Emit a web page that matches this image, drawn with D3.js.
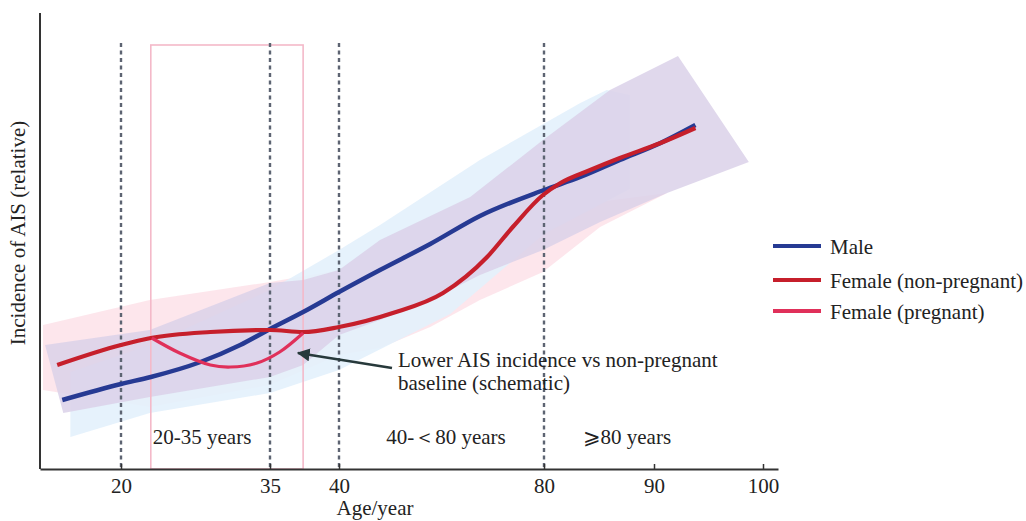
<!DOCTYPE html>
<html>
<head>
<meta charset="utf-8">
<script src="https://cdn.jsdelivr.net/npm/d3@7"></script>
<style>
  body { margin: 0; background: #fff; }
</style>
</head>
<body>
<svg id="chart" width="1026" height="521"></svg>
<script>
// ages are on the x axis, incidence in relative units on y
const tickAges = [20, 35, 40, 80, 90, 100];
const cutAges = [20, 35, 40, 80];
const pregnancyWindow = [23, 37.4];

const maleLine = [[14.2,0.69],[20,0.85],[23,0.92],[28,1.07],[32,1.24],[35,1.40],[37.4,1.57],[40,1.77],
  [48,1.99],[57.8,2.25],[67.5,2.53],[80,2.79],[83.3,2.92],[86.9,3.09],[90.6,3.26],[93.8,3.44]];
const femaleLine = [[13.7,1.04],[20,1.24],[23,1.31],[29,1.37],[35,1.39],[37.4,1.37],[40,1.42],
  [50.5,1.56],[60.3,1.76],[68.9,2.12],[73.9,2.42],[79.8,2.74],[81.5,2.86],[84.2,2.99],[86.9,3.11],
  [90.6,3.26],[93.8,3.41]];
const pregnantLine = [[23.1,1.31],[25.9,1.16],[29,1.04],[31,1.02],[33.7,1.06],[35.7,1.17],[37.4,1.36]];

// shaded ranges: upper edge then lower edge
const maleBandHi = [[15,0.97],[22.9,1.24],[35,1.79],[40,2.19],[48,2.44],[67.5,3.09],[83.3,3.66],[85.7,3.79],[87.8,3.74]];
const maleBandLo = [[15,0.32],[22.9,0.56],[35,0.76],[40,0.99],[61.7,1.55],[80,2.35],[87.8,2.8]];
const femaleBandHi = [[12.3,1.44],[22.9,1.69],[35,1.87],[40,1.99],[61.7,2.3],[80,2.6],[91.2,2.76]];
const femaleBandLo = [[12.3,0.79],[22.9,0.62],[35,0.84],[40,1.14],[48,1.21],[57.8,1.42],[67.5,1.69],
  [79.8,1.97],[85.1,2.42],[91.2,2.76]];
const overlapBandHi = [[12.5,1.24],[22.9,1.39],[35,1.86],[37.4,1.89],[40,1.99],[48,2.29],[65.6,2.72],
  [79.8,3.29],[86,3.79],[92.2,4.13],[98.7,3.07]];
const overlapBandLo = [[14.3,0.56],[22.9,0.72],[35,0.92],[37.4,1.04],[40,1.34],[48,1.49],[57.8,1.69],
  [67.5,1.94],[79.8,2.19],[85.1,2.47],[91.2,2.76],[98.7,3.07]];

const legendNames = ["Male", "Female (non-pregnant)", "Female (pregnant)"];
const legendColors = ["#263a93", "#c61f2b", "#e0305a"];
const stageLabels = ["20-35 years", "40-\uFF1C80 years", "\u2A7E80 years"];
const stageAges = [23.2, 49.2, 83.5];

const serif = "'Liberation Serif', 'Times New Roman', serif";
const svg = d3.select("#chart");

// axis is not linear, each labelled span gets its own width
const x = d3.scaleLinear()
  .domain([12, 20, 35, 40, 80, 90, 100, 101.4])
  .range([40, 121, 270, 339, 544, 654, 763, 778]);
const y = d3.scaleLinear().domain([0, 4.56]).range([469, 13]);

const line = d3.line().x(d => x(d[0])).y(d => y(d[1])).curve(d3.curveMonotoneX);
const poly = d3.line().x(d => x(d[0])).y(d => y(d[1]));

function band(hi, lo, fill, op) {
  svg.append("path")
    .attr("d", poly(hi.concat(lo.slice().reverse())) + "Z")
    .attr("fill", fill)
    .attr("fill-opacity", op);
}
band(femaleBandHi, femaleBandLo, "#fde2e9", 0.85);
band(maleBandHi, maleBandLo, "#e3f1fc", 0.9);
band(overlapBandHi, overlapBandLo, "#dbd1e9", 0.85);

svg.append("rect")
  .attr("x", x(pregnancyWindow[0]))
  .attr("y", 45)
  .attr("width", x(pregnancyWindow[1]) - x(pregnancyWindow[0]))
  .attr("height", y(0) - 45)
  .attr("fill", "none")
  .attr("stroke", "#f4b9c9")
  .attr("stroke-width", 1.6);

svg.selectAll("line.cut")
  .data(cutAges)
  .enter()
  .append("line")
  .attr("class", "cut")
  .attr("x1", d => x(d)).attr("x2", d => x(d))
  .attr("y1", 43).attr("y2", y(0))
  .attr("stroke", "#5d6472")
  .attr("stroke-width", 2.4)
  .attr("stroke-dasharray", "4,3.5");

svg.append("path").datum(maleLine).attr("d", line)
  .attr("fill", "none").attr("stroke", legendColors[0]).attr("stroke-width", 4.5);
svg.append("path").datum(femaleLine).attr("d", line)
  .attr("fill", "none").attr("stroke", legendColors[1]).attr("stroke-width", 4.2);
svg.append("path").datum(pregnantLine).attr("d", d3.line().x(d => x(d[0])).y(d => y(d[1])).curve(d3.curveCatmullRom))
  .attr("fill", "none").attr("stroke", legendColors[2]).attr("stroke-width", 3.2);

// axes
const xAxis = svg.append("g")
  .attr("transform", "translate(0," + y(0) + ")")
  .call(d3.axisBottom(x).tickValues(tickAges).tickSizeInner(-5).tickSizeOuter(0).tickPadding(9));
xAxis.select(".domain").attr("stroke", "#333").attr("stroke-width", 2);
xAxis.selectAll(".tick line").attr("stroke", "#333").attr("stroke-width", 1.5);
xAxis.selectAll(".tick text")
  .style("font-family", serif)
  .style("font-size", "21px")
  .attr("fill", "#222");

svg.append("line")
  .attr("x1", 40).attr("x2", 40).attr("y1", 13).attr("y2", y(0))
  .attr("stroke", "#333").attr("stroke-width", 2);

function label(sel) {
  return sel.style("font-family", serif).style("font-size", "21px").attr("fill", "#222");
}

label(svg.append("text"))
  .attr("x", 375).attr("y", 515)
  .attr("text-anchor", "middle")
  .text("Age/year");

label(svg.append("text"))
  .attr("transform", "translate(25,233) rotate(-90)")
  .attr("text-anchor", "middle")
  .text("Incidence of AIS (relative)");

label(svg.selectAll("text.stage")
  .data(stageLabels)
  .enter()
  .append("text")
  .attr("class", "stage"))
  .attr("x", (d, i) => x(stageAges[i]))
  .attr("y", 444)
  .text(d => d);

// annotation with arrow
svg.append("defs").append("marker")
  .attr("id", "head")
  .attr("viewBox", "0 0 10 10")
  .attr("refX", 9).attr("refY", 5)
  .attr("markerWidth", 5).attr("markerHeight", 5)
  .attr("orient", "auto")
  .append("path").attr("d", "M0,0 L10,5 L0,10 z").attr("fill", "#27393b");

svg.append("line")
  .attr("x1", 392).attr("y1", 368)
  .attr("x2", 298).attr("y2", 353)
  .attr("stroke", "#27393b").attr("stroke-width", 2.6)
  .attr("marker-end", "url(#head)");

const note = label(svg.append("text")).attr("x", 398).attr("y", 367);
note.append("tspan").attr("x", 398).text("Lower AIS incidence vs non-pregnant");
note.append("tspan").attr("x", 398).attr("dy", 23).text("baseline (schematic)");

// legend
const leg = svg.selectAll("g.leg")
  .data(legendNames)
  .enter()
  .append("g")
  .attr("class", "leg")
  .attr("transform", (d, i) => "translate(773," + [246, 280, 311][i] + ")");
leg.append("line")
  .attr("x1", 0).attr("x2", 48)
  .attr("stroke", (d, i) => legendColors[i])
  .attr("stroke-width", 4);
label(leg.append("text"))
  .attr("x", 57).attr("y", 8)
  .text(d => d);
</script>
</body>
</html>
